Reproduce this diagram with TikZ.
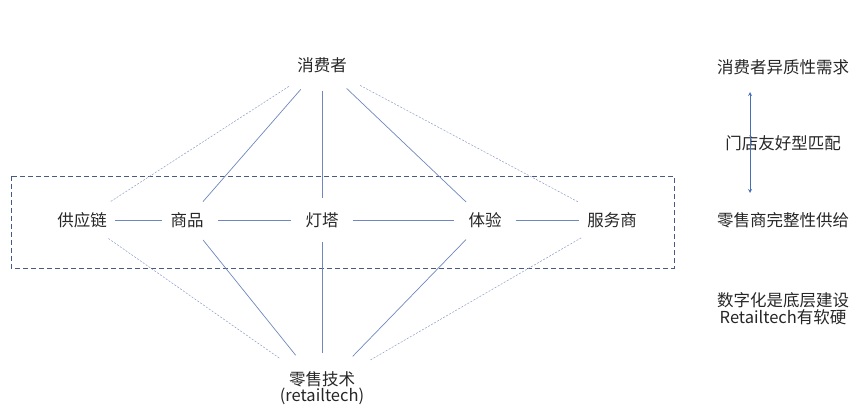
\documentclass[tikz,border=0pt]{standalone}
\usepackage{fontspec}
\setmainfont{Noto Sans CJK SC}
\definecolor{ln}{RGB}{110,135,190}
\definecolor{lnd}{RGB}{140,155,200}
\definecolor{box}{RGB}{70,90,130}
\definecolor{arr}{RGB}{70,110,180}
\begin{document}
\begin{tikzpicture}[x=1pt,y=-1pt,
  lbl/.style={font=\fontsize{16.5}{19}\selectfont,text=black!85,inner sep=6pt},
  solidln/.style={draw=ln,line width=0.7pt},
  dashln/.style={draw=lnd,line width=0.5pt,dash pattern=on 2pt off 1.5pt},
  rowln/.style={draw=ln,line width=0.6pt}]
\useasboundingbox (0,0) rectangle (868,414);
\node[lbl] (top) at (322,65) {消费者};
\node[lbl] (gyl) at (82,220) {供应链};
\node[lbl] (sp) at (187,220) {商品};
\node[lbl] (dt) at (322,220) {灯塔};
\node[lbl] (ty) at (485,220) {体验};
\node[lbl] (fws) at (612,220) {服务商};
\node[lbl,align=center,inner sep=2pt] (bot) at (322,388) {零售技术\\[-3pt](retailtech)};
\draw[draw=box,line width=0.9pt,dash pattern=on 5pt off 3pt] (11,176) rectangle (674,268);
\draw[dashln,shorten <=14pt,shorten >=8pt] (top) -- (gyl);
\draw[solidln,shorten <=14pt,shorten >=6pt] (top) -- (sp);
\draw[solidln,shorten <=12pt,shorten >=8pt] (top) -- (dt);
\draw[solidln,shorten <=14pt,shorten >=6pt] (top) -- (ty);
\draw[dashln,shorten <=14pt,shorten >=8pt] (top) -- (fws);
\draw[dashln,shorten <=8pt,shorten >=18pt] (gyl) -- (bot);
\draw[solidln,shorten <=8pt,shorten >=18pt] (sp) -- (bot);
\draw[solidln,shorten <=8pt,shorten >=16pt] (dt) -- (bot);
\draw[solidln,shorten <=8pt,shorten >=18pt] (ty) -- (bot);
\draw[dashln,shorten <=8pt,shorten >=18pt] (fws) -- (bot);
\draw[rowln,shorten <=2pt,shorten >=2pt] (gyl) -- (sp);
\draw[rowln,shorten <=8pt,shorten >=8pt] (sp) -- (dt);
\draw[rowln,shorten <=8pt,shorten >=8pt] (dt) -- (ty);
\draw[rowln,shorten <=8pt,shorten >=2pt] (ty) -- (fws);
\node[lbl] (r1) at (783,67) {消费者异质性需求};
\node[lbl] (r2) at (783,143) {门店友好型匹配};
\node[lbl] (r3) at (783,220) {零售商完整性供给};
\node[lbl,align=center] (r4) at (783,309) {数字化是底层建设\\[-2pt]Retailtech有软硬};
\coordinate (a1) at (750,92);
\coordinate (a2) at (750,193);
\draw[draw=arr,line width=0.8pt,<->,>=stealth] (a1) -- (a2);
\end{tikzpicture}
\end{document}
